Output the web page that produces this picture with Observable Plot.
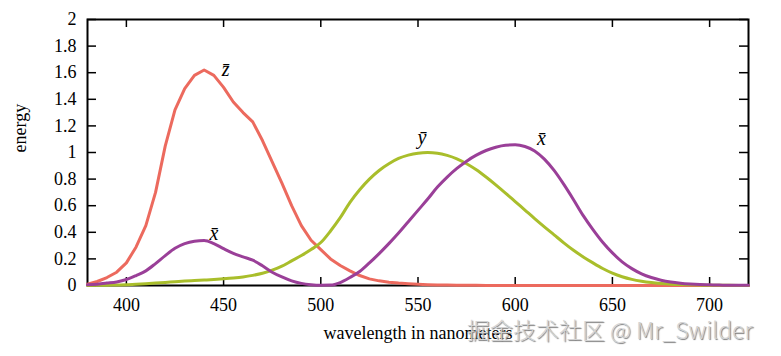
<!DOCTYPE html>
<html><head><meta charset="utf-8">
<script src="https://cdn.jsdelivr.net/npm/d3@7"></script>
<script src="https://cdn.jsdelivr.net/npm/@observablehq/plot@0.6"></script>
<style>
body{margin:0;background:#fff;}
#wrap{position:relative;width:781px;height:356px;overflow:hidden;}
#wm{position:absolute;left:467px;top:314px;font-family:"Noto Sans CJK SC","Noto Sans",sans-serif;font-size:23px;font-weight:300;color:#d4d4d4;text-shadow:1px 1px 1px #7a7a7a;white-space:nowrap;line-height:30px;}
</style></head><body><div id="wrap"></div>
<script>
const wavelengths = [380,385,390,395,400,405,410,415,420,425,430,435,440,445,450,455,460,465,470,475,480,485,490,495,500,505,510,515,520,525,530,535,540,545,550,555,560,565,570,575,580,585,590,595,600,605,610,615,620,625,630,635,640,645,650,655,660,665,670,675,680,685,690,695,700,705,710,715,720];
const zbar = [0.01,0.03,0.06,0.10,0.17,0.29,0.45,0.70,1.05,1.32,1.48,1.58,1.62,1.58,1.49,1.38,1.30,1.23,1.09,0.93,0.77,0.60,0.45,0.34,0.27,0.20,0.15,0.11,0.075,0.05,0.035,0.025,0.018,0.013,0.009,0.006,0.004,0.003,0.002,0.0015,0.001,0.0008,0.0005,0,0,0,0,0,0,0,0,0,0,0,0,0,0,0,0,0,0,0,0,0,0,0,0,0,0];
const xbar = [0.005,0.01,0.018,0.027,0.045,0.075,0.11,0.165,0.225,0.28,0.315,0.333,0.338,0.315,0.277,0.242,0.215,0.19,0.148,0.10,0.064,0.035,0.016,0.006,0.002,0.003,0.022,0.06,0.105,0.17,0.24,0.315,0.395,0.48,0.565,0.65,0.74,0.815,0.88,0.935,0.98,1.015,1.04,1.055,1.058,1.045,1.012,0.95,0.865,0.76,0.645,0.525,0.42,0.325,0.245,0.178,0.127,0.088,0.06,0.04,0.026,0.017,0.011,0.007,0.005,0.003,0.002,0.0015,0.001];
const ybar = [0,0.001,0.002,0.004,0.006,0.009,0.013,0.018,0.023,0.028,0.033,0.037,0.041,0.045,0.050,0.056,0.064,0.076,0.092,0.115,0.145,0.185,0.225,0.27,0.323,0.41,0.51,0.625,0.72,0.80,0.865,0.915,0.955,0.98,0.995,1.0,0.995,0.978,0.952,0.915,0.87,0.816,0.757,0.695,0.631,0.567,0.503,0.441,0.381,0.321,0.265,0.215,0.17,0.128,0.093,0.066,0.046,0.032,0.022,0.015,0.010,0.007,0.005,0.003,0.002,0.0015,0.001,0.0005,0];
const curveNames = ["z\u0304","x\u0304","y\u0304","x\u0304"];
const curveLabelW = [451,445,552,613.5];
const curveLabelV = [1.62,0.392,1.115,1.108];
const xTicks = [400,450,500,550,600,650,700];
const xTickLabels = ["400","450","500","550","600","650","700"];
const yTicks = [0,0.2,0.4,0.6,0.8,1,1.2,1.4,1.6,1.8,2];
const yTickLabels = ["0","0.2","0.4","0.6","0.8","1","1.2","1.4","1.6","1.8","2"];
const xLabel = "wavelength in nanometers";
const yLabel = "energy";
const watermark = "掘金技术社区 @ Mr_Swilder";

const rows = wavelengths.map((w,i)=>({w, x:xbar[i], y:ybar[i], z:zbar[i]}));
const labelRows = curveNames.map((t,i)=>({t, w:curveLabelW[i], v:curveLabelV[i]}));

const W=781,H=356,ML=87,MR=33,MT=19,MB=71;
const PW=W-ML-MR, PH=H-MT-MB;
const RED="#ec6a5e", GREEN="#a9be2b", PURPLE="#9a3f98";
const serif='"Liberation Serif","Times New Roman",serif';

const plot = Plot.plot({
  width:W, height:H, marginLeft:ML, marginRight:MR, marginTop:MT, marginBottom:MB,
  style:{fontFamily:serif, fontSize:"18px", background:"#fff", color:"#000", overflow:"visible"},
  x:{domain:[380,720]}, y:{domain:[0,2]},
  marks:[
    Plot.tickX(xTicks,{x:d=>d, insetTop:PH-8, stroke:"#000", strokeWidth:1.5}),
    Plot.tickX(xTicks,{x:d=>d, insetBottom:PH-8, stroke:"#000", strokeWidth:1.5}),
    Plot.tickY(yTicks,{y:d=>d, insetRight:PW-9, stroke:"#000", strokeWidth:1.5}),
    Plot.tickY(yTicks,{y:d=>d, insetLeft:PW-9, stroke:"#000", strokeWidth:1.5}),
    Plot.frame({stroke:"#000", strokeWidth:2}),
    Plot.line(rows,{x:"w",y:"z",stroke:RED,strokeWidth:3,curve:"linear"}),
    Plot.line(rows,{x:"w",y:"y",stroke:GREEN,strokeWidth:3,curve:"monotone-x"}),
    Plot.line(rows,{x:"w",y:"x",stroke:PURPLE,strokeWidth:3,curve:"monotone-x"}),
    Plot.axisX({ticks:xTicks, tickSize:0, tickPadding:13, label:null, fontSize:18, tickFormat:d=>xTickLabels[xTicks.indexOf(d)]}),
    Plot.axisY({ticks:yTicks, tickSize:0, tickPadding:11, label:null, fontSize:18, tickFormat:d=>yTickLabels[yTicks.indexOf(d)]}),
    Plot.text(labelRows,{x:"w",y:"v",text:"t",fontStyle:"italic",fontSize:20}),
    Plot.text([xLabel],{frameAnchor:"bottom", lineAnchor:"bottom", dy:53, text:d=>d, fontSize:18}),
    Plot.text([yLabel],{frameAnchor:"left", rotate:-90, dx:-67, text:d=>d, fontSize:18})
  ]
});
const wrap = document.getElementById("wrap");
wrap.appendChild(plot);
const wm = document.createElement("div");
wm.id="wm"; wm.textContent = watermark;
wrap.appendChild(wm);
</script>
</body></html>
